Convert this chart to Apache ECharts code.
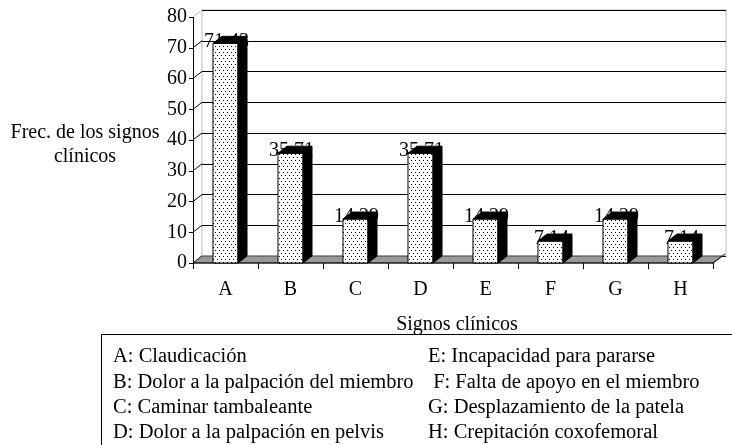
<!DOCTYPE html>
<html>
<head>
<meta charset="utf-8">
<script src="https://cdn.jsdelivr.net/npm/echarts@6/dist/echarts.min.js"></script>
<style>html,body{margin:0;padding:0;background:#fff;}#c{width:732px;height:445px;}</style>
</head>
<body>
<div id="c"></div>
<script>
const categories = ['A', 'B', 'C', 'D', 'E', 'F', 'G', 'H'];
const values = [71.43, 35.71, 14.29, 35.71, 14.29, 7.14, 14.29, 7.14];
const valueLabels = ['71,43', '35,71', '14,29', '35,71', '14,29', '7,14', '14,29', '7,14'];
const yMin = 0, yMax = 80, yStep = 10;
const yTickValues = [0, 10, 20, 30, 40, 50, 60, 70, 80];
const legendLeft = ['A: Claudicación', 'B: Dolor a la palpación del miembro', 'C: Caminar tambaleante', 'D: Dolor a la palpación en pelvis'];
const legendRight = ['E: Incapacidad para pararse', ' F: Falta de apoyo en el miembro', 'G: Desplazamiento de la patela', 'H: Crepitación coxofemoral'];
const yName = ['Frec. de los signos', 'clínicos'];
const xName = 'Signos clínicos';

const FONT = '"Liberation Serif", "Times New Roman", serif';
const FS = 20;
const DX = 9, DY = -7;

// dotted pattern
const pc = document.createElement('canvas');
pc.width = 4; pc.height = 6;
const pctx = pc.getContext('2d');
pctx.fillStyle = '#fff'; pctx.fillRect(0, 0, 4, 6);
pctx.fillStyle = '#000';
pctx.fillRect(1, 1, 1, 1);
pctx.fillRect(3, 4, 1, 1);

const chart = echarts.init(document.getElementById('c'));

const graphics = [];
graphics.push({ type: 'text', x: 85, y: 133, style: { text: yName[0], font: FS + 'px ' + FONT, fill: '#000', align: 'center', verticalAlign: 'middle' } });
graphics.push({ type: 'text', x: 85, y: 157, style: { text: yName[1], font: FS + 'px ' + FONT, fill: '#000', align: 'center', verticalAlign: 'middle' } });
graphics.push({ type: 'rect', shape: { x: 101.5, y: 334.5, width: 660, height: 130 }, style: { fill: 'none', stroke: '#000', lineWidth: 1 } });
legendLeft.forEach((t, i) => graphics.push({ type: 'text', x: 113, y: 357 + i * 25.3, style: { text: t, font: '20.5px ' + FONT, fill: '#000', verticalAlign: 'middle' } }));
legendRight.forEach((t, i) => graphics.push({ type: 'text', x: 428, y: 357 + i * 25.3, style: { text: t, font: '20.5px ' + FONT, fill: '#000', verticalAlign: 'middle' } }));
graphics.push({ type: 'text', x: 457, y: 325, style: { text: xName, font: FS + 'px ' + FONT, fill: '#000', align: 'center', verticalAlign: 'middle' } });

const option = {
  animation: false,
  backgroundColor: '#fff',
  grid: [
    { left: 193, top: 17, width: 520, height: 246, show: false },
    { left: 202, top: 10, width: 524, height: 246, show: true, borderColor: '#bbb', borderWidth: 1, backgroundColor: '#fff' }
  ],
  xAxis: [
    { type: 'category', gridIndex: 0, data: categories,
      axisLine: { show: false },
      axisTick: { show: true, length: 6, lineStyle: { color: '#000' } },
      axisLabel: { color: '#000', fontFamily: FONT, fontSize: FS, margin: 17 } },
    { type: 'category', gridIndex: 1, data: categories, show: false }
  ],
  yAxis: [
    { type: 'value', gridIndex: 0, min: yMin, max: yMax, interval: yStep,
      axisLine: { show: true, lineStyle: { color: '#000' } },
      axisTick: { show: true, length: 4, lineStyle: { color: '#000' } },
      axisLabel: { color: '#000', fontFamily: FONT, fontSize: FS, margin: 6 },
      splitLine: { show: false } },
    { type: 'value', gridIndex: 1, min: yMin, max: yMax, interval: yStep,
      axisLine: { show: false }, axisTick: { show: false }, axisLabel: { show: false },
      splitLine: { show: true, lineStyle: { color: '#000', width: 1 } } }
  ],
  graphic: graphics,
  series: [
    { // side wall gridlines
      type: 'custom', xAxisIndex: 0, yAxisIndex: 0, z: 3,
      data: yTickValues.map(v => [0, v]),
      renderItem(params, api) {
        const p = api.coord([0, api.value(1)]);
        const bw = api.size([1, 0])[0];
        const x = p[0] - bw / 2;
        const isTop = api.value(1) === yMax;
        return { type: 'line', shape: { x1: x, y1: p[1], x2: x + DX, y2: p[1] + DY },
          style: { stroke: isTop ? '#bbb' : '#000', lineWidth: 1 } };
      }
    },
    { // floor
      type: 'custom', xAxisIndex: 0, yAxisIndex: 0, z: 4,
      data: [[0, 0]],
      renderItem(params, api) {
        const bw = api.size([1, 0])[0];
        const a = api.coord([0, 0]);
        const b = api.coord([categories.length - 1, 0]);
        const xl = a[0] - bw / 2, xr = b[0] + bw / 2, y = a[1];
        return { type: 'group', children: [
          { type: 'polygon', shape: { points: [[xl, y], [xr, y], [xr + DX, y + DY], [xl + DX, y + DY]] },
            style: { fill: '#999', stroke: '#000', lineWidth: 0.6 } },
          { type: 'line', shape: { x1: xl, y1: y, x2: xr, y2: y }, style: { stroke: '#000', lineWidth: 1 } },
          { type: 'line', shape: { x1: xr, y1: y, x2: xr + DX + 3, y2: y + DY - 2 }, style: { stroke: '#000', lineWidth: 1 } }
        ] };
      }
    },
    { // 3D bars
      type: 'custom', xAxisIndex: 0, yAxisIndex: 0, z: 5,
      data: values.map((v, i) => [i, v]),
      renderItem(params, api) {
        const i = api.value(0), v = api.value(1);
        const top = api.coord([i, v]);
        const base = api.coord([i, 0]);
        const w = api.size([1, 0])[0] * 0.385;
        const x0 = top[0] - w / 2, x1 = top[0] + w / 2, yT = top[1], yB = base[1];
        return { type: 'group', children: [
          { type: 'text', style: { text: valueLabels[params.dataIndex], x: top[0] + 1, y: yT - 2,
              font: FS + 'px ' + FONT, fill: '#000', align: 'center', verticalAlign: 'middle' } },
          { type: 'rect', shape: { x: x0, y: yT, width: w, height: yB - yT },
            style: { fill: { image: pc, repeat: 'repeat' }, stroke: '#000', lineWidth: 1 } },
          { type: 'polygon', shape: { points: [[x1, yT], [x1 + DX, yT + DY], [x1 + DX, yB + DY], [x1, yB]] },
            style: { fill: '#000', stroke: '#000', lineWidth: 1 } },
          { type: 'polygon', shape: { points: [[x0, yT], [x0 + DX, yT + DY], [x1 + DX, yT + DY], [x1, yT]] },
            style: { fill: '#000', stroke: '#000', lineWidth: 1 } }
        ] };
      }
    }
  ]
};
chart.setOption(option);
</script>
</body>
</html>
